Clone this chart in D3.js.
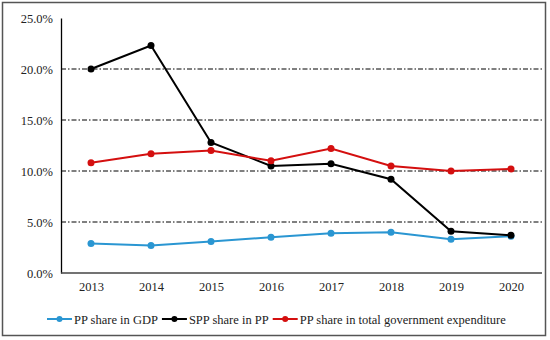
<!DOCTYPE html>
<html><head><meta charset="utf-8">
<script src="https://cdn.jsdelivr.net/npm/d3@7"></script>
<style>body{margin:0;background:#fff}svg{display:block}</style>
</head><body>
<svg id="c" width="550" height="340"></svg>
<script>
const years = ["2013","2014","2015","2016","2017","2018","2019","2020"];
const gdpShare = [2.9, 2.7, 3.1, 3.5, 3.9, 4.0, 3.3, 3.6];
const sppShare = [20.0, 22.3, 12.8, 10.5, 10.7, 9.2, 4.1, 3.7];
const govShare = [10.8, 11.7, 12.0, 11.0, 12.2, 10.5, 10.0, 10.2];
const yTicks = [0, 5, 10, 15, 20, 25];
const seriesNames = ["PP share in GDP", "SPP share in PP", "PP share in total government expenditure"];
const seriesColors = ["#2a96d2", "#000000", "#d40f0f"];

const series = [gdpShare, sppShare, govShare];
const svg = d3.select("#c");
const FF = '"Liberation Serif", "Times New Roman", serif';

svg.append("rect").attr("x",2.5).attr("y",2.5).attr("width",543).attr("height",333)
  .attr("fill","#fff").attr("stroke","#555").attr("stroke-width",1.5);

const x = d3.scalePoint().domain(years).range([61,541]).padding(0.5);
const y = d3.scaleLinear().domain([0,25]).range([273,18]);

svg.append("g").selectAll("line").data(yTicks.filter(t=>t>0 && t<25)).join("line")
  .attr("x1",61).attr("x2",542).attr("y1",d=>y(d)).attr("y2",d=>y(d))
  .attr("stroke","#000").attr("stroke-width",1).attr("stroke-dasharray","5,2,1.5,2");

const ya = svg.append("g").attr("transform","translate(61,0)")
  .call(d3.axisLeft(y).tickValues(yTicks).tickFormat(d=>d.toFixed(1)+"%").tickSize(0).tickPadding(8));
ya.attr("font-family",null);
ya.select(".domain").attr("stroke","#000").attr("stroke-width",1.3);
ya.selectAll("text").style("font-family",FF).style("font-size","12.5px").attr("fill","#222");

const xa = svg.append("g").attr("transform","translate(0,273)")
  .call(d3.axisBottom(x).tickSize(0).tickPadding(9));
xa.attr("font-family",null);
xa.select(".domain").attr("stroke","#444").attr("stroke-width",1.3).attr("d","M61,0H542");
xa.selectAll("text").style("font-family",FF).style("font-size","12.5px").attr("fill","#222");

const line = d3.line().x((d,i)=>x(years[i])).y(d=>y(d));
series.forEach((s,k)=>{
  const g = svg.append("g");
  g.append("path").datum(s).attr("d",line).attr("fill","none")
    .attr("stroke",seriesColors[k]).attr("stroke-width",2);
  g.selectAll("circle").data(s).join("circle")
    .attr("cx",(d,i)=>x(years[i])).attr("cy",d=>y(d)).attr("r",3.5)
    .attr("fill",seriesColors[k]);
});

const lg = svg.append("g").attr("transform","translate(0,319)");
let cx = 47;
seriesNames.forEach((n,k)=>{
  lg.append("line").attr("x1",cx).attr("x2",cx+25).attr("y1",0).attr("y2",0)
    .attr("stroke",seriesColors[k]).attr("stroke-width",2);
  lg.append("circle").attr("cx",cx+12.5).attr("cy",0).attr("r",3).attr("fill",seriesColors[k]);
  const t = lg.append("text").attr("x",cx+27).attr("y",4.5).text(n)
    .style("font-family",FF).style("font-size","12.5px").attr("fill","#222");
  cx = cx + 27 + t.node().getComputedTextLength() + 4;
});
</script>
</body></html>
